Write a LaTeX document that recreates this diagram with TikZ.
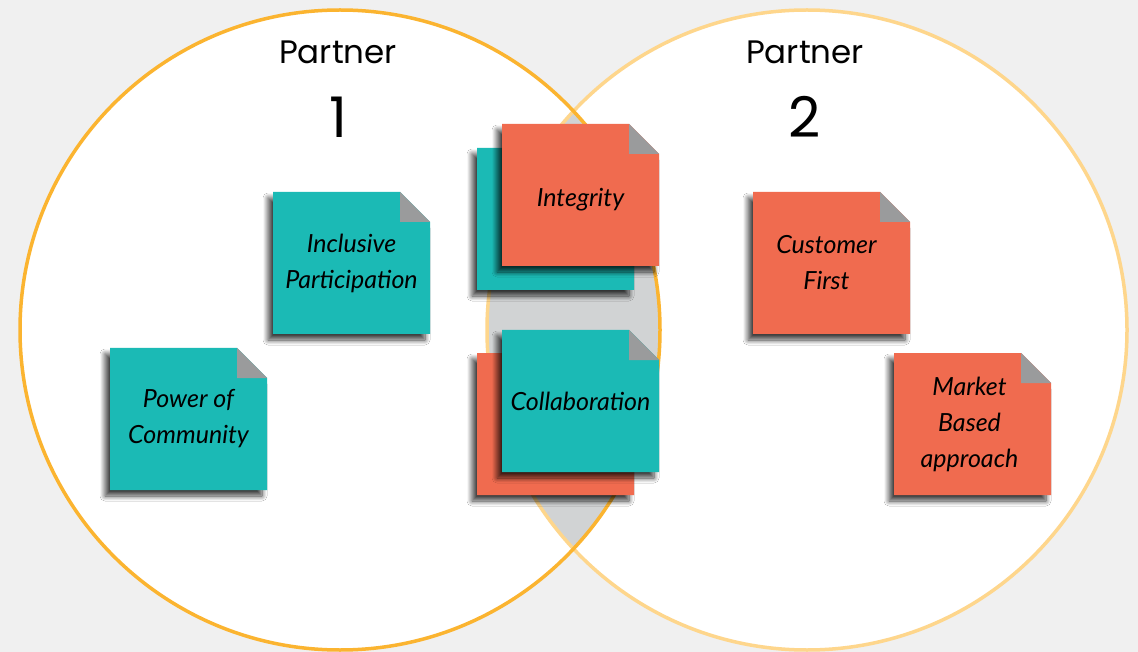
\documentclass[tikz,border=0pt]{standalone}
\usepackage{fontspec}
\setmainfont{Poppins}
\newfontfamily\handfont{Lato}
\usetikzlibrary{shadows.blur}
\definecolor{bgc}{HTML}{F0F0F0}
\definecolor{lensc}{HTML}{D1D3D4}
\definecolor{ringA}{HTML}{FBB430}
\definecolor{ringB}{HTML}{FED68C}
\definecolor{tealc}{HTML}{1BBAB5}
\definecolor{orangec}{HTML}{F06B4F}
\definecolor{foldc}{HTML}{9A9B9C}
\tikzset{
  notefill/.style={fill=#1, blur shadow={shadow xshift=-5pt, shadow yshift=-6pt, shadow blur radius=5pt, shadow opacity=75, shadow blur steps=10}},
  notetext/.style={font=\handfont\itshape\fontsize{25}{36}\selectfont, align=center, text=black},
  titletext/.style={font=\fontsize{32.5}{36}\selectfont, text=black},
  numtext/.style={font=\fontsize{56}{60}\selectfont, text=black},
}
% name, x (left), y (top), colour
\newcommand\stickynote[4]{%
  \fill[notefill=#4] (#2,#3) -- ++(127,0) -- ++(30,30) -- ++(0,112) -- ++(-157,0) -- cycle;
  \fill[foldc] (#2+127,#3) -- ++(0,30) -- ++(30,0) -- cycle;
  \coordinate (#1) at (#2+78.5,#3+71);
}
\begin{document}
\begin{tikzpicture}[x=1pt,y=-1pt]
\useasboundingbox (0,0) rectangle (1138,652);
\fill[bgc] (0,0) rectangle (1138,652);
% circles
\coordinate (cA) at (340,330);
\coordinate (cB) at (807,330);
\fill[white] (cA) circle (320);
\fill[white] (cB) circle (320);
\begin{scope}
  \clip (cA) circle (320);
  \fill[lensc] (cB) circle (320);
\end{scope}
\draw[line width=3.5pt, ringB] (cB) circle (320);
\draw[line width=3.5pt, ringA] (cA) circle (320);
% titles
\node[titletext] (p1) at (338,52) {Partner};
\node[numtext] (n1) at (338,117) {1};
\node[titletext] (p2) at (805,52) {Partner};
\node[numtext] (n2) at (805,117) {2};
% notes
\stickynote{inc}{273}{192}{tealc}
\node[notetext] (incT) at (inc) {Inclusive\\Participation};
\stickynote{pow}{110}{348}{tealc}
\node[notetext] (powT) at (pow) {Power of\\Community};
\stickynote{intB}{477}{148}{tealc}
\stickynote{int}{502}{124}{orangec}
\node[notetext] (intT) at ([yshift=-5]int) {Integrity};
\stickynote{colB}{477}{353}{orangec}
\stickynote{col}{502}{330}{tealc}
\node[notetext] (colT) at (col) {Collaboration};
\stickynote{cus}{753}{192}{orangec}
\node[notetext] (cusT) at ([xshift=-5]cus) {Customer\\First};
\stickynote{mkt}{894}{353}{orangec}
\node[notetext] (mktT) at ([xshift=-3]mkt) {Market\\Based\\approach};
\end{tikzpicture}
\end{document}
